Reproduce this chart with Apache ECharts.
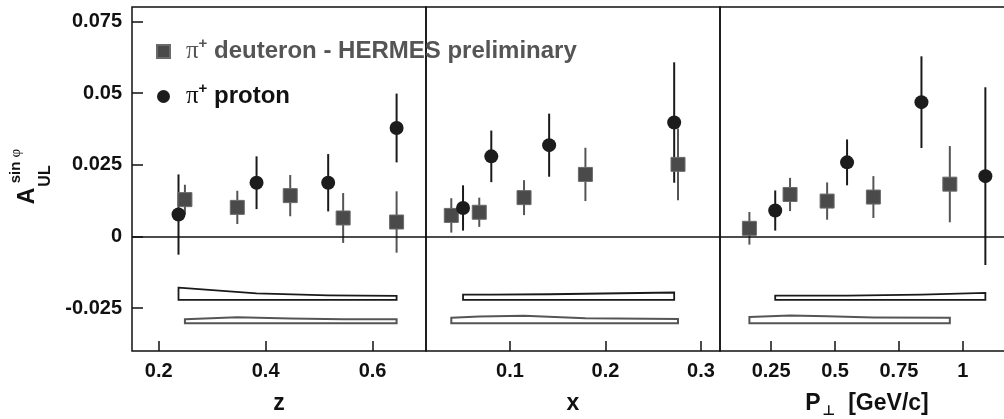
<!DOCTYPE html>
<html>
<head>
<meta charset="utf-8">
<script src="https://cdn.jsdelivr.net/npm/echarts@6/dist/echarts.min.js"></script>
</head>
<body style="margin:0">
<div id="main" style="width:1004px;height:419px"></div>
<script>
// tick labels
var yTicks = [-0.025, 0, 0.025, 0.05, 0.075];
var zTicks = [0.2, 0.4, 0.6];
var xTicks = [0.1, 0.2, 0.3];
var pTicks = [0.25, 0.5, 0.75, 1];

// z panel
var zP = [0.237, 0.383, 0.517, 0.645];
var zPval = [0.0076, 0.0187, 0.0187, 0.0378];
var zPerr = [0.014, 0.0092, 0.010, 0.012];
var zD = [0.249, 0.347, 0.446, 0.545, 0.645];
var zDval = [0.0128, 0.0101, 0.0142, 0.0064, 0.005];
var zDerr = [0.0052, 0.0058, 0.0072, 0.0087, 0.0107];
var zBandP = [0.0043, 0.0023, 0.0016, 0.0014];
var zBandD = [0.0014, 0.0021, 0.0016, 0.0014, 0.0014];

// x panel
var xP = [0.0508, 0.0804, 0.141, 0.272];
var xPval = [0.0099, 0.0279, 0.0318, 0.0397];
var xPerr = [0.0079, 0.009, 0.011, 0.021];
var xD = [0.0385, 0.0678, 0.1147, 0.179, 0.276];
var xDval = [0.0073, 0.0084, 0.0135, 0.0216, 0.0251];
var xDerr = [0.006, 0.0051, 0.0061, 0.0093, 0.0125];
var xBandP = [0.0019, 0.0019, 0.0020, 0.0026];
var xBandD = [0.0019, 0.0023, 0.0026, 0.0017, 0.0015];

// P_perp panel
var pP = [0.266, 0.547, 0.838, 1.088];
var pPval = [0.009, 0.0258, 0.0468, 0.021];
var pPerr = [0.007, 0.008, 0.016, 0.031];
var pD = [0.165, 0.324, 0.469, 0.65, 0.949];
var pDval = [0.0028, 0.0146, 0.0123, 0.0137, 0.0182];
var pDerr = [0.0057, 0.0058, 0.0065, 0.0073, 0.0133];
var pBandP = [0.0015, 0.0015, 0.0019, 0.0025];
var pBandD = [0.0022, 0.0027, 0.0024, 0.0020, 0.0019];

// band bases (systematic error boxes)
var baseP = -0.0222;
var baseD = -0.0303;

var D_NAME = 'π+ deuteron - HERMES preliminary';
var P_NAME = 'π+ proton';
var FONT = 'Liberation Sans, Arial, sans-serif';

var panels = [
  {ticks: zTicks, min: 0.15, max: 0.7, name: 'z', xp: zP, yp: zPval, ep: zPerr, xd: zD, yd: zDval, ed: zDerr, bp: zBandP, bd: zBandD},
  {ticks: xTicks, min: 0.012, max: 0.32, name: 'x', xp: xP, yp: xPval, ep: xPerr, xd: xD, yd: xDval, ed: xDerr, bp: xBandP, bd: xBandD},
  {ticks: pTicks, min: 0.05, max: 1.2, name: '{p|P}{s|⊥}{p|  [GeV/c]}', xp: pP, yp: pPval, ep: pPerr, xd: pD, yd: pDval, ed: pDerr, bp: pBandP, bd: pBandD}
];

var grids = [], xAxes = [], yAxes = [], series = [];

function errBars(xs, ys, es) {
  return xs.map(function (x, i) { return [x, ys[i], es[i]]; });
}

function errRender(color) {
  return function (params, api) {
    var a = api.coord([api.value(0), api.value(1) + api.value(2)]);
    var b = api.coord([api.value(0), api.value(1) - api.value(2)]);
    return {type: 'line', shape: {x1: a[0], y1: a[1], x2: b[0], y2: b[1]},
      style: {stroke: color, lineWidth: 2}};
  };
}

function bandRender(xs, hs, base, color, w) {
  return function (params, api) {
    var pts = [];
    for (var i = 0; i < xs.length; i++) pts.push(api.coord([xs[i], base + hs[i]]));
    pts.push(api.coord([xs[xs.length - 1], base]));
    pts.push(api.coord([xs[0], base]));
    return {type: 'polygon', shape: {points: pts},
      style: {fill: 'none', stroke: color, lineWidth: w}};
  };
}

panels.forEach(function (p, k) {
  grids.push({left: 132 + 294 * k, width: 294, top: 7, height: 344, show: true,
    outerBoundsMode: 'none', containLabel: false,
    borderColor: '#111', borderWidth: 1.5, backgroundColor: 'transparent'});
  xAxes.push({
    gridIndex: k, type: 'value', min: p.min, max: p.max, position: 'bottom',
    splitLine: {show: false}, axisLine: {show: false, onZero: false},
    axisTick: {inside: true, length: 10, customValues: p.ticks, lineStyle: {color: '#111', width: 1.5}},
    axisLabel: {customValues: p.ticks, margin: 10, fontSize: 20, fontWeight: 'bold', color: '#111', fontFamily: FONT,
      formatter: function (v) { return String(v); }},
    name: p.name, nameLocation: 'middle', nameGap: 38,
    nameTextStyle: {fontSize: 23, fontWeight: 'bold', color: '#111', fontFamily: FONT, lineHeight: 30,
      rich: {
        p: {fontSize: 23, fontWeight: 'bold', color: '#111', fontFamily: FONT, lineHeight: 30},
        s: {fontSize: 14, color: '#111', fontFamily: 'DejaVu Sans', lineHeight: 30, padding: [14, 0, 0, 2]}
      }}
  });
  yAxes.push({
    gridIndex: k, type: 'value', min: -0.04, max: 0.08,
    splitLine: {show: false}, axisLine: {show: false, onZero: false},
    axisTick: {show: k === 0, inside: true, length: 11, customValues: yTicks, lineStyle: {color: '#111', width: 1.5}},
    axisLabel: {show: k === 0, customValues: yTicks, margin: 10, fontSize: 20, fontWeight: 'bold', color: '#111', fontFamily: FONT,
      formatter: function (v) { return String(v); }}
  });

  series.push({type: 'custom', name: 'bandD' + k, xAxisIndex: k, yAxisIndex: k, data: [0],
    renderItem: bandRender(p.xd, p.bd, baseD, '#555', 2), silent: true});
  series.push({type: 'custom', name: 'bandP' + k, xAxisIndex: k, yAxisIndex: k, data: [0],
    renderItem: bandRender(p.xp, p.bp, baseP, '#1a1a1a', 1.8), silent: true});
  series.push({type: 'custom', name: 'errD' + k, xAxisIndex: k, yAxisIndex: k,
    data: errBars(p.xd, p.yd, p.ed), renderItem: errRender('#555'), silent: true});
  series.push({type: 'scatter', name: D_NAME, xAxisIndex: k, yAxisIndex: k, symbol: 'rect', symbolSize: 14,
    itemStyle: {color: '#4a4a4a', borderColor: '#6a6a6a', borderWidth: 1, opacity: 1},
    data: p.xd.map(function (x, i) { return [x, p.yd[i]]; }),
    markLine: {silent: true, symbol: 'none', label: {show: false},
      lineStyle: {color: '#111', width: 1.5, type: 'solid'}, data: [{yAxis: 0}]}});
  series.push({type: 'custom', name: 'errP' + k, xAxisIndex: k, yAxisIndex: k,
    data: errBars(p.xp, p.yp, p.ep), renderItem: errRender('#1a1a1a'), silent: true});
  series.push({type: 'scatter', name: P_NAME, xAxisIndex: k, yAxisIndex: k, symbol: 'circle', symbolSize: 14,
    itemStyle: {color: '#1c1c1c', opacity: 1},
    data: p.xp.map(function (x, i) { return [x, p.yp[i]]; })});
});

var option = {
  animation: false,
  backgroundColor: '#fff',
  grid: grids,
  xAxis: xAxes,
  yAxis: yAxes,
  legend: {
    orient: 'vertical', left: 151, top: 31, itemWidth: 13, itemHeight: 13, itemGap: 14,
    selectedMode: false,
    data: [{name: D_NAME, icon: 'rect'}, {name: P_NAME, icon: 'circle'}],
    formatter: function (name) {
      if (name === D_NAME) return '{pd|π}{sd|+}{td| deuteron - HERMES preliminary}';
      return '{pp|π}{sp|+}{tp| proton}';
    },
    textStyle: {
      lineHeight: 30,
      rich: {
        pd: {fontFamily: 'Liberation Serif', fontSize: 25, color: '#555', lineHeight: 30, padding: [0, 0, 0, 11]},
        sd: {fontFamily: FONT, fontSize: 15, fontWeight: 'bold', color: '#555', lineHeight: 30, padding: [0, 0, 16, 0]},
        td: {fontFamily: FONT, fontSize: 24, fontWeight: 'bold', color: '#555', lineHeight: 30},
        pp: {fontFamily: 'Liberation Serif', fontSize: 25, color: '#111', lineHeight: 30, padding: [0, 0, 0, 11]},
        sp: {fontFamily: FONT, fontSize: 15, fontWeight: 'bold', color: '#111', lineHeight: 30, padding: [0, 0, 16, 0]},
        tp: {fontFamily: FONT, fontSize: 24, fontWeight: 'bold', color: '#111', lineHeight: 30}
      }
    }
  },
  graphic: [
    {type: 'text', x: 28, y: 196, rotation: Math.PI / 2,
      style: {text: 'A', fontSize: 23, fontWeight: 'bold', fontFamily: FONT, fill: '#111', align: 'center', verticalAlign: 'middle'}},
    {type: 'text', x: 16, y: 166, rotation: Math.PI / 2,
      style: {text: '{a|sin }{b|φ}', align: 'center', verticalAlign: 'middle',
        rich: {a: {fontSize: 15, fontWeight: 'bold', fontFamily: FONT, fill: '#111'},
               b: {fontSize: 15, fontFamily: 'Liberation Serif', fill: '#111'}}}},
    {type: 'text', x: 46, y: 176, rotation: Math.PI / 2,
      style: {text: 'UL', fontSize: 16, fontWeight: 'bold', fontFamily: FONT, fill: '#111', align: 'center', verticalAlign: 'middle'}}
  ],
  series: series
};

var chart = echarts.init(document.getElementById('main'));
chart.setOption(option);
</script>
</body>
</html>
